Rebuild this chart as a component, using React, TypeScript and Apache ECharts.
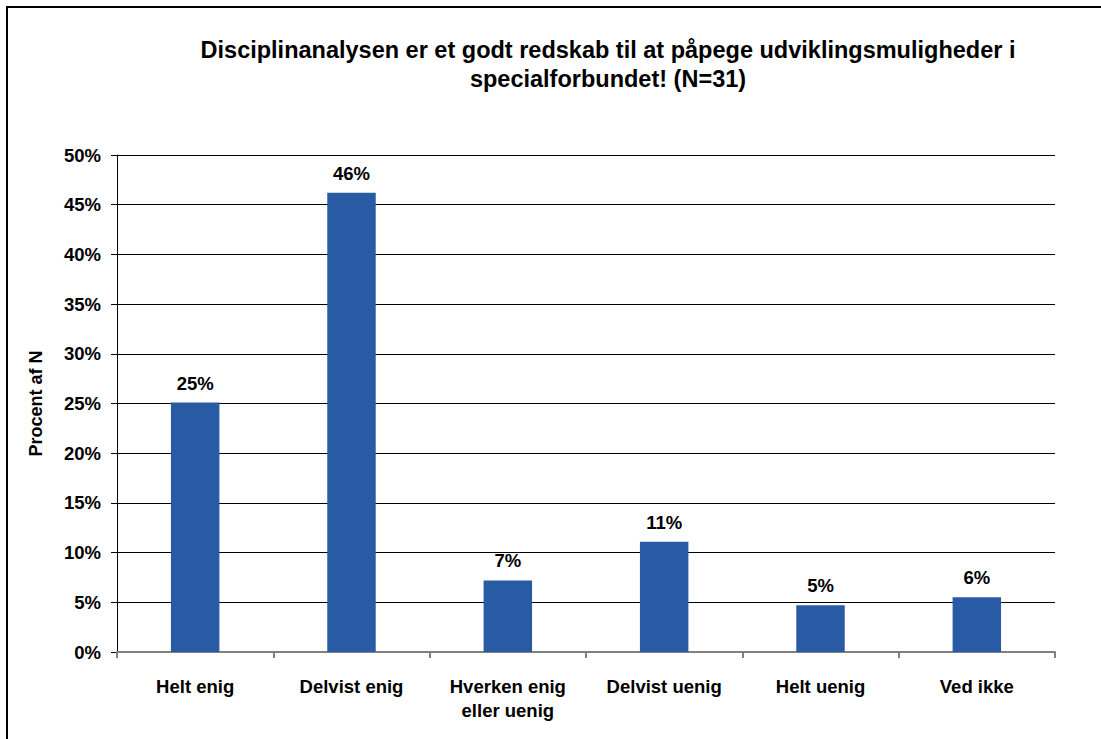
import React, { useEffect, useRef } from "react";
import * as echarts from "echarts";

const categories = ["Helt enig", "Delvist enig", "Hverken enig\neller uenig", "Delvist uenig", "Helt uenig", "Ved ikke"];
const values = [25.1, 46.2, 7.2, 11.1, 4.7, 5.5];
const titleText = "Disciplinanalysen er et godt redskab til at påpege udviklingsmuligheder i\nspecialforbundet! (N=31)";
const yAxisName = "Procent af N";

export default function App() {
  const ref = useRef<HTMLDivElement>(null);
  useEffect(() => {
    const chart = echarts.init(ref.current!, null, { renderer: "svg" });
    const font = "'Liberation Sans', Arial, sans-serif";
    chart.setOption({
      animation: false,
      backgroundColor: "#ffffff",
      title: {
        text: titleText,
        left: 603,
        textAlign: "center",
        top: 30,
        textStyle: { fontFamily: font, fontWeight: "bold", fontSize: 23.5, color: "#000", lineHeight: 29 },
      },
      graphic: [
        {
          type: "rect",
          shape: { x: 7, y: 7, width: 1300, height: 900 },
          style: { fill: "none", stroke: "#000", lineWidth: 2 },
          silent: true,
        },
      ],
      grid: { left: 117, right: 46, top: 155, bottom: 87 },
      xAxis: {
        type: "category",
        data: categories,
        axisLine: { lineStyle: { color: "#808080", width: 2 } },
        axisTick: { show: true, alignWithLabel: false, length: 6, lineStyle: { color: "#808080", width: 2 } },
        axisLabel: { fontFamily: font, fontWeight: "bold", fontSize: 18.5, color: "#000", margin: 22, lineHeight: 24 },
      },
      yAxis: {
        type: "value",
        min: 0,
        max: 50,
        interval: 5,
        name: yAxisName,
        nameLocation: "middle",
        nameGap: 72,
        nameTextStyle: { fontFamily: font, fontWeight: "bold", fontSize: 18, color: "#000" },
        axisLine: { show: true, lineStyle: { color: "#000", width: 1 } },
        axisTick: { show: true, length: 6, lineStyle: { color: "#000" } },
        axisLabel: { fontFamily: font, fontWeight: "bold", fontSize: 18.5, color: "#000", margin: 16, formatter: "{value}%" },
        splitLine: { lineStyle: { color: "#000", width: 1 } },
      },
      series: [
        {
          type: "bar",
          data: values,
          barWidth: "31%",
          itemStyle: { color: "#285ba3" },
          label: {
            show: true,
            position: "top",
            distance: 10,
            fontFamily: font,
            fontWeight: "bold",
            fontSize: 18.5,
            color: "#000",
            formatter: (p: any) => Math.round(p.value) + "%",
          },
        },
      ],
    });
    return () => chart.dispose();
  }, []);
  return <div ref={ref} style={{ position: "fixed", left: 0, top: 0, width: 1101, height: 739 }} />;
}
